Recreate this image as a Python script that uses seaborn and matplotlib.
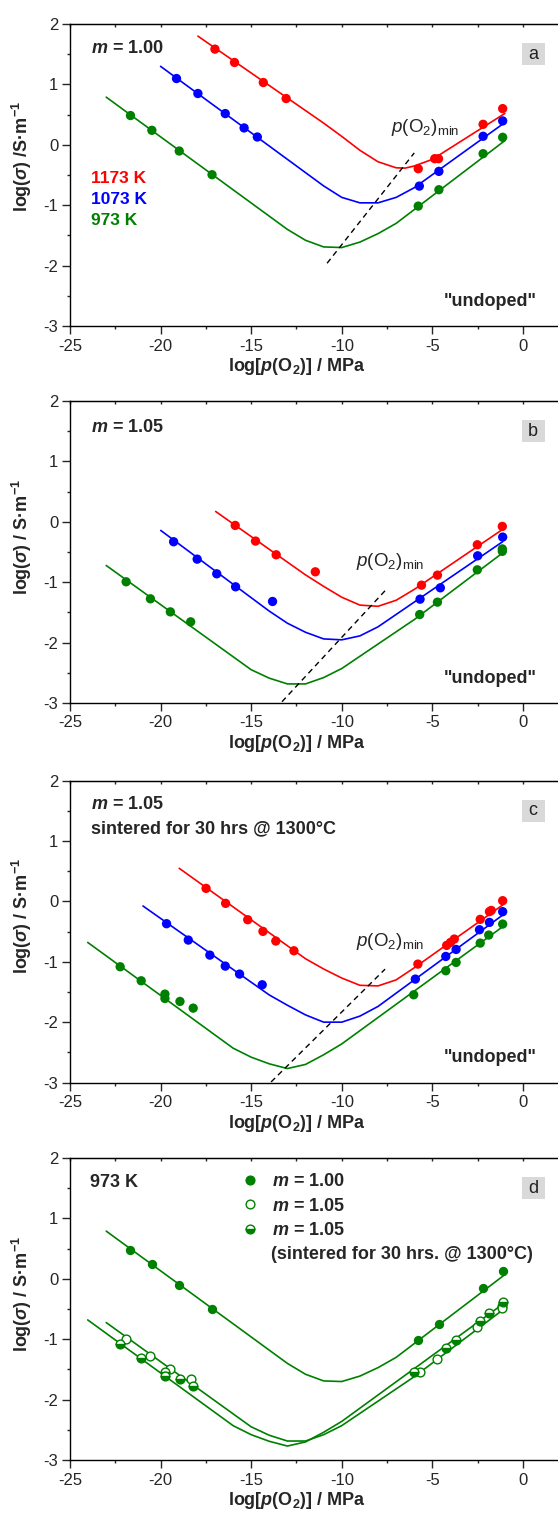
import matplotlib
matplotlib.use("Agg")
import numpy as np
import pandas as pd
import matplotlib.pyplot as plt
import seaborn as sns
from matplotlib.lines import Line2D
from matplotlib.patches import Rectangle
from matplotlib.ticker import MultipleLocator

# temperatures / colours
temps = ['1173 K', '1073 K', '973 K']
t_colors = ['#ff0000', '#0000ff', '#008000']
GREEN = '#008000'

# ---------------- (a) m = 1.00 ----------------
a_px_1173 = [-17.0, -15.92, -14.33, -13.07, -5.78, -4.87, -4.66, -2.20, -1.12]
a_py_1173 = [1.585, 1.364, 1.032, 0.767, -0.395, -0.229, -0.229, 0.34, 0.60]
a_px_1073 = [-19.12, -17.94, -16.43, -15.39, -14.66, -5.72, -4.64, -2.20, -1.12]
a_py_1073 = [1.098, 0.850, 0.518, 0.280, 0.130, -0.683, -0.439, 0.142, 0.396]
a_px_973 = [-21.66, -20.48, -18.97, -17.16, -5.78, -4.64, -2.20, -1.12]
a_py_973 = [0.485, 0.241, -0.102, -0.494, -1.014, -0.743, -0.146, 0.125]

a_fx_1173 = [-17.94, -11, -10, -9, -8, -7, -6.5, -6, -5, -1]
a_fy_1173 = [1.80, 0.36, 0.14, -0.09, -0.28, -0.38, -0.385, -0.35, -0.24, 0.52]
a_fx_1073 = [-20, -11, -10, -9, -8, -7, -6, -1]
a_fy_1073 = [1.30, -0.68, -0.87, -0.96, -0.96, -0.87, -0.71, 0.37]
a_fx_973 = [-23, -13, -12, -11, -10, -9, -8, -7, -1]
a_fy_973 = [0.79, -1.40, -1.58, -1.69, -1.70, -1.61, -1.47, -1.30, 0.07]

a_dash_x = [-10.81, -6.0]
a_dash_y = [-1.96, -0.134]

# ---------------- (b) m = 1.05 ----------------
b_px_1173 = [-15.88, -14.76, -13.62, -11.46, -5.60, -4.72, -2.52, -1.14]
b_py_1173 = [-0.061, -0.320, -0.547, -0.829, -1.050, -0.884, -0.381, -0.077]
b_px_1073 = [-19.28, -17.98, -16.90, -15.86, -13.82, -5.68, -4.56, -2.50, -1.12]
b_py_1073 = [-0.331, -0.619, -0.862, -1.077, -1.32, -1.282, -1.094, -0.564, -0.254]
b_px_973 = [-21.90, -20.56, -19.46, -18.34, -5.70, -4.72, -2.52, -1.14, -1.14]
b_py_973 = [-0.994, -1.276, -1.492, -1.657, -1.536, -1.331, -0.796, -0.45, -0.49]

b_fx_1173 = [-16.96, -12, -11, -10, -9, -8, -7, -6, -1.14]
b_fy_1173 = [0.17, -0.88, -1.07, -1.25, -1.38, -1.40, -1.30, -1.12, -0.13]
b_fx_1073 = [-19.99, -14, -13, -12, -11, -10, -9, -8, -1.12]
b_fy_1073 = [-0.144, -1.48, -1.68, -1.83, -1.94, -1.955, -1.89, -1.74, -0.33]
b_fx_973 = [-23, -15, -14, -13, -12, -11, -10, -6, -1.14]
b_fy_973 = [-0.724, -2.45, -2.59, -2.685, -2.685, -2.58, -2.43, -1.62, -0.52]

b_dash_x = [-13.3, -7.53]
b_dash_y = [-2.98, -1.116]

# ---------------- (c) m = 1.05, sintered 30 h ----------------
c_px_1173 = [-17.49, -16.41, -15.19, -14.35, -13.64, -12.64, -5.80, -4.21, -4.0, -3.79, -2.36, -1.85, -1.75, -1.12]
c_py_1173 = [0.215, -0.033, -0.304, -0.497, -0.657, -0.818, -1.039, -0.729, -0.68, -0.624, -0.298, -0.17, -0.15, 0.011]
c_px_1073 = [-19.67, -18.47, -17.28, -16.43, -15.64, -14.39, -5.94, -4.26, -3.69, -2.40, -1.85, -1.12]
c_py_1073 = [-0.370, -0.641, -0.890, -1.072, -1.204, -1.381, -1.287, -0.912, -0.796, -0.470, -0.348, -0.171]
c_px_973 = [-22.23, -21.07, -19.76, -19.76, -18.93, -18.20, -6.03, -4.26, -3.69, -2.36, -1.89, -1.12]
c_py_973 = [-1.083, -1.315, -1.536, -1.608, -1.657, -1.768, -1.547, -1.149, -1.011, -0.691, -0.558, -0.376]

c_fx_1173 = [-18.97, -12, -11, -10, -9, -8, -7, -6, -1.12]
c_fy_1173 = [0.547, -0.95, -1.12, -1.27, -1.39, -1.40, -1.30, -1.10, -0.06]
c_fx_1073 = [-20.97, -14, -13, -12, -11, -10, -9, -8, -1.12]
c_fy_1073 = [-0.077, -1.55, -1.72, -1.88, -2.0, -2.0, -1.90, -1.74, -0.227]
c_fx_973 = [-24.02, -16, -15, -14, -13, -12, -11, -10, -1.12]
c_fy_973 = [-0.68, -2.43, -2.58, -2.69, -2.768, -2.70, -2.54, -2.36, -0.42]

c_dash_x = [-13.9, -7.61]
c_dash_y = [-2.99, -1.122]

# panel d labels
d_sets = ['m = 1.00', 'm = 1.05', 'm = 1.05 sintered']


def long_df(xs_list, ys_list, labels, key='T'):
    frames = []
    for xs, ys, lab in zip(xs_list, ys_list, labels):
        frames.append(pd.DataFrame({'logp': xs, 'logs': ys, key: lab}))
    return pd.concat(frames, ignore_index=True)


sns.set_style('ticks')
plt.rcParams['font.family'] = ['Liberation Sans', 'DejaVu Sans']
plt.rcParams['axes.unicode_minus'] = False
plt.rcParams['mathtext.fontset'] = 'custom'
plt.rcParams['mathtext.rm'] = 'Liberation Sans'
plt.rcParams['mathtext.it'] = 'Liberation Sans:italic'
plt.rcParams['mathtext.bf'] = 'Liberation Sans:bold'
plt.rcParams['mathtext.bfit'] = 'Liberation Sans:italic:bold'

pal = dict(zip(temps, t_colors))

fig = plt.figure(figsize=(5.58, 15.13), dpi=100)
left, width, height = 0.1254, 0.893, 0.1996
bottoms = [0.7845, 0.5354, 0.2845, 0.0350]
axes = [fig.add_axes([left, b, width, height]) for b in bottoms]

XLAB = r'log[$\mathbfit{p}$(O$_\mathbf{2}$)] / MPa'
PMIN = r'$p$(O$_2$)$_{\mathrm{min}}$'


def style_axes(ax, ylab, letter, ylab_y=0.55):
    ax.set_xlim(-25, 2.5)
    ax.set_ylim(-3, 2)
    ax.xaxis.set_major_locator(MultipleLocator(5))
    ax.xaxis.set_minor_locator(MultipleLocator(2.5))
    ax.yaxis.set_major_locator(MultipleLocator(1))
    ax.yaxis.set_minor_locator(MultipleLocator(0.5))
    ax.set_xticks([-25, -20, -15, -10, -5, 0])
    ax.tick_params(which='major', direction='out', length=5.5, width=1, labelsize=12, pad=3)
    ax.tick_params(which='minor', direction='out', length=2.5, width=1)
    ax.tick_params(axis='x', which='major', pad=3.5)
    for s in ax.spines.values():
        s.set_linewidth(1.0)
        s.set_color('black')
    ax.spines['right'].set_visible(False)
    top = ax.secondary_xaxis('top')
    top.xaxis.set_major_locator(MultipleLocator(2.5))
    top.tick_params(which='both', direction='in', length=2.5, width=1, labeltop=False)
    ax.set_xlabel(XLAB, fontsize=13, fontweight='bold')
    ax.set_ylabel(ylab, fontsize=13, fontweight='bold')
    ax.xaxis.set_label_coords(0.4545, -0.10)
    ax.yaxis.set_label_coords(-0.072, ylab_y)
    ax.add_patch(Rectangle((0.907, 0.863), 0.0454, 0.0738, transform=ax.transAxes,
                           facecolor='#d9d9d9', edgecolor='none', zorder=1))
    ax.text(0.9297, 0.8997, letter, transform=ax.transAxes, ha='center', va='center',
            fontsize=13, color='#222222', zorder=2)


def draw_temp_panel(ax, pts, fit, dx, dy):
    sns.lineplot(data=fit, x='logp', y='logs', hue='T', palette=pal, hue_order=temps,
                 estimator=None, sort=False, linewidth=1.2, legend=False, ax=ax, zorder=2)
    sns.scatterplot(data=pts, x='logp', y='logs', hue='T', palette=pal, hue_order=temps,
                    s=45, linewidth=0, legend=False, ax=ax, zorder=3)
    ax.plot(dx, dy, color='black', linewidth=1.0, linestyle=(0, (4, 3)), zorder=2)


# ---- panel a ----
ax = axes[0]
pts = long_df([a_px_1173, a_px_1073, a_px_973], [a_py_1173, a_py_1073, a_py_973], temps)
fit = long_df([a_fx_1173, a_fx_1073, a_fx_973], [a_fy_1173, a_fy_1073, a_fy_973], temps)
draw_temp_panel(ax, pts, fit, a_dash_x, a_dash_y)
style_axes(ax, r'log($\mathbfit{\sigma}$) /S·m$^{\mathbf{-1}}$', 'a', 0.56)
ax.text(-23.82, 1.60, r'$\mathbfit{m}$ = 1.00', fontsize=13, fontweight='bold', ha='left', va='center')
for lab, col, yy in zip(temps, t_colors, [-0.56, -0.91, -1.25]):
    ax.text(-23.82, yy, lab, color=col, fontsize=12.5, fontweight='bold', ha='left', va='center')
ax.text(-7.27, 0.29, PMIN, fontsize=13.5, ha='left', va='center')
ax.text(0.75, -2.59, '"undoped"', fontsize=13, fontweight='bold', ha='right', va='center')

# ---- panel b ----
ax = axes[1]
pts = long_df([b_px_1173, b_px_1073, b_px_973], [b_py_1173, b_py_1073, b_py_973], temps)
fit = long_df([b_fx_1173, b_fx_1073, b_fx_973], [b_fy_1173, b_fy_1073, b_fy_973], temps)
draw_temp_panel(ax, pts, fit, b_dash_x, b_dash_y)
style_axes(ax, r'log($\mathbfit{\sigma}$) / S·m$^{\mathbf{-1}}$', 'b')
ax.text(-23.82, 1.56, r'$\mathbfit{m}$ = 1.05', fontsize=13, fontweight='bold', ha='left', va='center')
ax.text(-9.24, -0.66, PMIN, fontsize=13.5, ha='left', va='center')
ax.text(0.75, -2.60, '"undoped"', fontsize=13, fontweight='bold', ha='right', va='center')

# ---- panel c ----
ax = axes[2]
pts = long_df([c_px_1173, c_px_1073, c_px_973], [c_py_1173, c_py_1073, c_py_973], temps)
fit = long_df([c_fx_1173, c_fx_1073, c_fx_973], [c_fy_1173, c_fy_1073, c_fy_973], temps)
draw_temp_panel(ax, pts, fit, c_dash_x, c_dash_y)
style_axes(ax, r'log($\mathbfit{\sigma}$) / S·m$^{\mathbf{-1}}$', 'c')
ax.text(-23.82, 1.60, r'$\mathbfit{m}$ = 1.05', fontsize=13, fontweight='bold', ha='left', va='center')
ax.text(-23.82, 1.20, 'sintered for 30 hrs @ 1300°C', fontsize=13, fontweight='bold', ha='left', va='center')
ax.text(-9.24, -0.67, PMIN, fontsize=13.5, ha='left', va='center')
ax.text(0.75, -2.59, '"undoped"', fontsize=13, fontweight='bold', ha='right', va='center')

# ---- panel d : 973 K comparison ----
ax = axes[3]
fit = long_df([a_fx_973, b_fx_973, c_fx_973], [a_fy_973, b_fy_973, c_fy_973], d_sets, key='set')
sns.lineplot(data=fit, x='logp', y='logs', hue='set', palette={k: GREEN for k in d_sets},
             estimator=None, sort=False, linewidth=1.2, legend=False, ax=ax, zorder=2)
sns.scatterplot(x=a_px_973, y=a_py_973, color=GREEN, s=45, linewidth=0, ax=ax, zorder=3)
sns.scatterplot(x=b_px_973, y=b_py_973, facecolor='white', edgecolor=GREEN, s=40,
                linewidth=1.0, ax=ax, zorder=3)
ax.plot(c_px_973, c_py_973, linestyle='none', marker='o', markersize=6.3, fillstyle='bottom',
        markerfacecolor=GREEN, markerfacecoloralt='white', markeredgecolor=GREEN,
        markeredgewidth=1.0, zorder=4)
style_axes(ax, r'log($\mathbfit{\sigma}$) / S·m$^{\mathbf{-1}}$', 'd')
ax.text(-23.92, 1.59, '973 K', fontsize=13, fontweight='bold', ha='left', va='center')

handles = [
    Line2D([], [], linestyle='none', marker='o', markersize=6.3, color=GREEN),
    Line2D([], [], linestyle='none', marker='o', markersize=6.3, markerfacecolor='white',
           markeredgecolor=GREEN, markeredgewidth=1.0),
    Line2D([], [], linestyle='none', marker='o', markersize=6.3, fillstyle='bottom',
           markerfacecolor=GREEN, markerfacecoloralt='white', markeredgecolor=GREEN,
           markeredgewidth=1.0),
]
labels = [r'$\mathbfit{m}$ = 1.00', r'$\mathbfit{m}$ = 1.05', r'$\mathbfit{m}$ = 1.05']
ax.legend(handles, labels, loc='upper left', bbox_to_anchor=(0.347, 0.950), frameon=False,
          prop={'size': 13, 'weight': 'bold'}, handlelength=0.8, handletextpad=0.81,
          labelspacing=0.42, borderpad=0, borderaxespad=0)
ax.text(-13.92, 0.40, '(sintered for 30 hrs. @ 1300°C)', fontsize=13, fontweight='bold',
        ha='left', va='center')

fig.savefig('out.png', dpi=100)
